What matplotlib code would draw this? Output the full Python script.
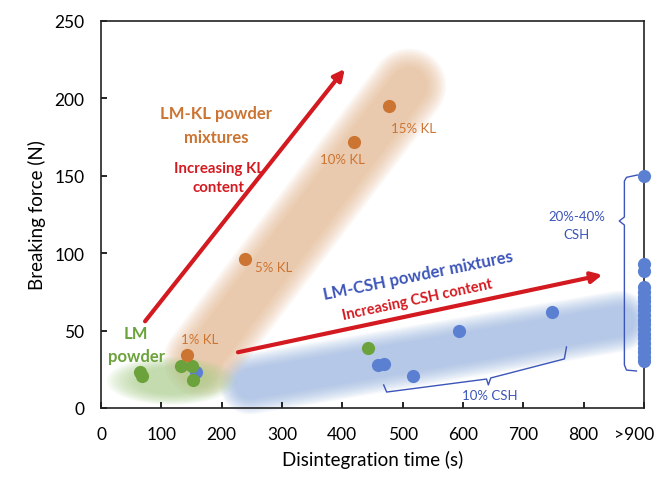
import numpy as np
import matplotlib.pyplot as plt
from matplotlib.patches import Ellipse
from matplotlib.transforms import ScaledTranslation

plt.rcParams['font.family'] = ['Lato', 'DejaVu Sans']

# Data (disintegration time in s, breaking force in N)
kl_time = [142, 238, 419, 478]
kl_force = [34, 96, 172, 195]
kl_labels = ["1% KL", "5% KL", "10% KL", "15% KL"]

lm_time = [65, 68, 132, 151, 152, 442]
lm_force = [23, 20.5, 27, 27, 18, 39]

csh_time = [158, 459, 469, 517, 593, 747]
csh_force = [23, 28, 28.5, 20.5, 49.5, 62]

# samples that did not disintegrate within 900 s
csh_slow = [150, 93, 88.5, 78, 75, 72, 69, 66, 63, 60, 57, 54, 51,
            48, 45, 42, 39, 36, 33, 30.5]

xticks = [0, 100, 200, 300, 400, 500, 600, 700, 800, 900]
xticklabels = ["0", "100", "200", "300", "400", "500", "600", "700", "800", ">900"]

orange = "#CC7432"
green = "#6CA23B"
blue = "#5B80D2"
red = "#D41A21"
blue_txt = "#3C55B8"


def soft_band(ax, xs, ys, width, color, total_alpha=0.6, n=12):
    a = 1 - (1 - total_alpha) ** (1 / n)
    for w in np.linspace(width, width * 0.5, n):
        ax.plot(xs, ys, color=color, lw=w, alpha=a, solid_capstyle="round",
                clip_on=False, zorder=1)


fig = plt.figure(figsize=(6.62, 4.81), dpi=100)
ax = fig.add_axes([0.1526, 0.1497, 0.8202, 0.8046])

# shaded regions
soft_band(ax, [247, 859], [15.5, 56], 44, "#8FAEDF", 0.62)
soft_band(ax, [166, 510], [31, 208], 54, "#E2AE80", 0.6)
for k in np.linspace(1.0, 0.55, 12):
    ax.add_patch(Ellipse((117, 17.5), 215 * k, 31 * k, color="#A5CC85",
                         alpha=0.08, lw=0, zorder=1, clip_on=False))

# points
ax.scatter(csh_time, csh_force, s=90, color=blue, zorder=3, lw=0)
ax.scatter([900] * len(csh_slow), csh_slow, s=90, color=blue, zorder=3, lw=0,
           clip_on=False)
ax.scatter(lm_time, lm_force, s=90, color=green, zorder=4, lw=0)
ax.scatter(kl_time, kl_force, s=90, color=orange, zorder=4, lw=0)

# point labels
ax.text(164, 44.5, kl_labels[0], color=orange, fontsize=9.5, ha="center", va="center")
ax.text(256, 91, kl_labels[1], color=orange, fontsize=9.5, ha="left", va="center")
ax.text(400, 161, kl_labels[2], color=orange, fontsize=9.5, ha="center", va="center")
ax.text(518, 181, kl_labels[3], color=orange, fontsize=9.5, ha="center", va="center")

# arrows
ax.annotate("", xy=(404, 219), xytext=(73, 56),
            arrowprops=dict(arrowstyle="-|>", color=red, lw=3, mutation_scale=16,
                            shrinkA=0, shrinkB=0), zorder=5)
ax.annotate("", xy=(831, 86), xytext=(227, 36),
            arrowprops=dict(arrowstyle="-|>", color=red, lw=3, mutation_scale=16,
                            shrinkA=0, shrinkB=0), zorder=5)

# annotations
ax.text(191, 183, "LM-KL powder\nmixtures", color=orange, fontsize=12, weight="bold",
        ha="center", va="center", linespacing=1.6)
ax.text(195, 149, "Increasing KL\ncontent", color=red, fontsize=10.8, weight="bold",
        ha="center", va="center", linespacing=1.5)
ax.text(58, 41, "LM\npowder", color=green, fontsize=12, weight="bold",
        ha="center", va="center", linespacing=1.5)
ax.text(525, 86, "LM-CSH powder mixtures", color=blue_txt, fontsize=12, weight="bold",
        ha="center", va="center", rotation=11.5)
ax.text(525, 70, "Increasing CSH content", color=red, fontsize=10.5, weight="bold",
        ha="center", va="center", rotation=12)
ax.text(788, 118, "20%-40%\nCSH", color=blue_txt, fontsize=9.5,
        ha="center", va="center", linespacing=1.6)
ax.text(644, 8.5, "10% CSH", color=blue_txt, fontsize=9.5, ha="center", va="center")

# brackets
ax.plot([468.5, 473.5, 639, 642, 646, 768, 771.5],
        [14.9, 10.3, 18.7, 14.9, 19.4, 31.7, 39.4], color=blue_txt, lw=1, zorder=2)
ax.plot([889, 871, 867.5, 867.5, 859, 867.5, 867.5, 871, 887.5],
        [150.5, 149, 146.6, 123.4, 120.8, 118.2, 27.8, 24.5, 23.9],
        color=blue_txt, lw=1, zorder=2)

ax.set_xlim(0, 900)
ax.set_ylim(0, 250)
ax.set_xticks(xticks)
ax.set_xticklabels(xticklabels)
ax.set_yticks([0, 50, 100, 150, 200, 250])
ax.tick_params(direction="in", length=4, width=1.2, labelsize=12.5)
ax.tick_params(axis="x", pad=13)
ax.tick_params(axis="y", pad=12)
# the ">900" label sits a little left of its tick so it stays inside the figure
last = ax.get_xticklabels()[-1]
last.set_transform(last.get_transform() + ScaledTranslation(-7 / 72, 0, fig.dpi_scale_trans))
for s in ax.spines.values():
    s.set_linewidth(1.2)
    s.set_color("#222222")
    s.set_zorder(2.5)
ax.set_xlabel("Disintegration time (s)", fontsize=13.5, labelpad=6)
ax.set_ylabel("Breaking force (N)", fontsize=13.5, labelpad=6)

plt.savefig("out.png", dpi=100)
